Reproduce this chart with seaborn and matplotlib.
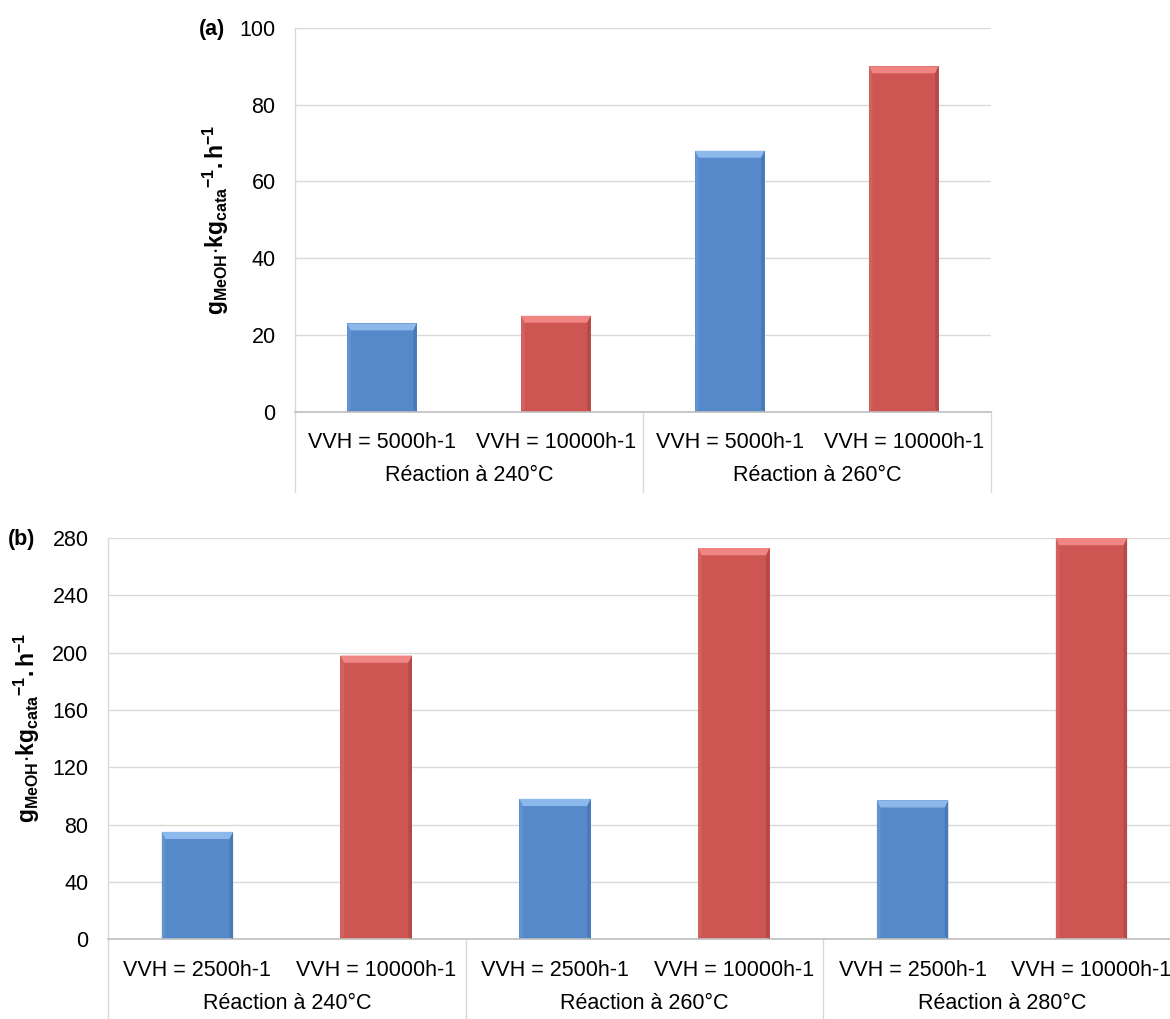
import pandas as pd
import matplotlib
matplotlib.use("Agg")
import matplotlib.pyplot as plt
import matplotlib.transforms as mtransforms
from matplotlib.patches import Polygon
import seaborn as sns

# Panel (a)
groups_a = ["Réaction à 240°C", "Réaction à 260°C"]
vvh_a = ["VVH = 5000h-1", "VVH = 10000h-1"]
values_a = [23, 25, 68, 90]
yticks_a = [0, 20, 40, 60, 80, 100]

# Panel (b)
groups_b = ["Réaction à 240°C", "Réaction à 260°C", "Réaction à 280°C"]
vvh_b = ["VVH = 2500h-1", "VVH = 10000h-1"]
values_b = [75, 198, 98, 273, 97, 280]
yticks_b = [0, 40, 80, 120, 160, 200, 240, 280]

BLUE = "#5589C9"
RED = "#CD5653"
SHADES = {
    BLUE: ("#8DB8EC", "#3E6EA6", "#6E9FDA"),
    RED: ("#F08683", "#A3403E", "#DA6F6C"),
}
GRID = "#D9D9D9"
AXIS = "#BFBFBF"
FS = 15.5

ylabel = r"$\mathbf{g_{MeOH}{\cdot}kg_{cata}{}^{-1}.h^{-1}}$"


def make_df(groups, vvh, values):
    rows = []
    i = 0
    for g in groups:
        for v in vvh:
            rows.append({"cat": f"{g}|{v}", "group": g, "vvh": v, "value": values[i]})
            i += 1
    return pd.DataFrame(rows)


def bevel(ax, ymax):
    # Excel-like bevelled bar look
    band = ymax * 0.018
    for p in list(ax.patches):
        x, w, h = p.get_x(), p.get_width(), p.get_height()
        face = matplotlib.colors.to_hex(p.get_facecolor())
        light, dark, mid = SHADES.get(face.upper(), SHADES[BLUE])
        ins = w * 0.05
        ax.add_patch(Polygon([(x, h), (x + w, h), (x + w - ins, h - band), (x + ins, h - band)],
                             closed=True, facecolor=light, edgecolor="none", zorder=3))
        ax.add_patch(Polygon([(x + w, h), (x + w, 0), (x + w - ins, band * 0.4), (x + w - ins, h - band)],
                             closed=True, facecolor=dark, edgecolor="none", alpha=0.55, zorder=3))
        ax.add_patch(Polygon([(x, h), (x, 0), (x + ins, band * 0.4), (x + ins, h - band)],
                             closed=True, facecolor=mid, edgecolor="none", alpha=0.5, zorder=3))


def draw_panel(ax, groups, vvh, values, yticks):
    df = make_df(groups, vvh, values)
    palette = {vvh[0]: BLUE, vvh[1]: RED}
    sns.barplot(data=df, x="cat", y="value", hue="vvh", palette=palette, dodge=False,
                width=0.4, saturation=1, legend=False, ax=ax, zorder=2,
                edgecolor="none")
    n = len(df)
    ax.set_xlim(-0.5, n - 0.5)
    ax.set_ylim(yticks[0], yticks[-1])
    ax.set_yticks(yticks)
    ax.set_yticklabels([str(t) for t in yticks], fontsize=FS, color="black")
    ax.tick_params(axis="y", length=6, width=1, color=AXIS, direction="out", pad=8)
    ax.set_xticks([])
    ax.set_xlabel("")
    ax.set_ylabel("")
    for s in ["top", "right"]:
        ax.spines[s].set_visible(False)
    ax.spines["left"].set_color(GRID)
    ax.spines["bottom"].set_color(AXIS)
    ax.spines["left"].set_linewidth(1)
    ax.spines["bottom"].set_linewidth(1.2)
    ax.grid(axis="y", color=GRID, linewidth=1, zorder=0)
    ax.set_axisbelow(True)
    bevel(ax, yticks[-1])

    # multi-level category axis
    for i, lab in enumerate(df["vvh"]):
        ax.annotate(lab, xy=(i, 0), xycoords=("data", "axes fraction"),
                    xytext=(0, -31), textcoords="offset pixels",
                    ha="center", va="center", fontsize=FS, annotation_clip=False)
    k = len(vvh)
    for j, g in enumerate(groups):
        ax.annotate(g, xy=(j * k + (k - 1) / 2, 0), xycoords=("data", "axes fraction"),
                    xytext=(0, -64), textcoords="offset pixels",
                    ha="center", va="center", fontsize=FS, annotation_clip=False)
    trans = mtransforms.blended_transform_factory(ax.transData, ax.transAxes)
    depth = 80 / (ax.get_position().height * ax.figure.bbox.height)
    for j in range(len(groups) + 1):
        xs = j * k - 0.5
        ax.plot([xs, xs], [0, -depth], transform=trans, color=GRID, lw=1,
                clip_on=False, zorder=1)


sns.set_theme(style="white")
plt.rcParams["font.family"] = ["Liberation Sans", "DejaVu Sans"]
plt.rcParams["text.color"] = "black"
plt.rcParams["mathtext.fontset"] = "custom"
plt.rcParams["mathtext.rm"] = "Liberation Sans"
plt.rcParams["mathtext.it"] = "Liberation Sans:italic"
plt.rcParams["mathtext.bf"] = "Liberation Sans:bold"

W, H = 1170, 1019
fig = plt.figure(figsize=(W / 100, H / 100), dpi=100)
ax_a = fig.add_axes([295 / W, 1 - 411.7 / H, 695.7 / W, (411.7 - 28) / H])
ax_b = fig.add_axes([108 / W, 1 - 939.3 / H, 1072.8 / W, (939.3 - 538) / H])

draw_panel(ax_a, groups_a, vvh_a, values_a, yticks_a)
draw_panel(ax_b, groups_b, vvh_b, values_b, yticks_b)

fig.text(216 / W, 1 - 220 / H, ylabel, rotation=90, ha="center", va="center", fontsize=16.5)
fig.text(27 / W, 1 - 728 / H, ylabel, rotation=90, ha="center", va="center", fontsize=16.5)
fig.text(212 / W, 1 - 29 / H, "(a)", ha="center", va="center", fontsize=FS, fontweight="bold")
fig.text(22 / W, 1 - 540 / H, "(b)", ha="center", va="center", fontsize=FS, fontweight="bold")

fig.savefig("out.png", dpi=100, facecolor="white")
